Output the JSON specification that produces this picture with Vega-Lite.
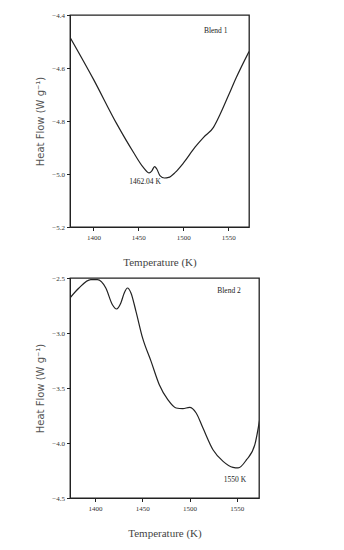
{
  "$schema": "https://vega.github.io/schema/vega-lite/v6.json",
  "padding": {"left": 35, "top": 10, "right": 5, "bottom": 5},
  "spacing": 4,
  "config": {
    "font": "Liberation Serif",
    "view": {"stroke": "#222", "strokeWidth": 1.3},
    "axis": {
      "grid": false,
      "labelOverlap": false,
      "labelFont": "Liberation Serif",
      "labelFontSize": 7,
      "labelColor": "#333",
      "tickColor": "#222",
      "domainColor": "#222",
      "titleFont": "Liberation Serif",
      "titleFontWeight": "normal",
      "titleColor": "#444"
    }
  },
  "datasets": {
    "blend1": [
      {"T": 1374, "HF": -4.484},
      {"T": 1400, "HF": -4.642},
      {"T": 1426, "HF": -4.811},
      {"T": 1444.5, "HF": -4.918},
      {"T": 1455.5, "HF": -4.975},
      {"T": 1462, "HF": -4.996},
      {"T": 1465, "HF": -4.988},
      {"T": 1468, "HF": -4.972},
      {"T": 1470.5, "HF": -4.981},
      {"T": 1474, "HF": -5.006},
      {"T": 1479, "HF": -5.015},
      {"T": 1483.7, "HF": -5.013},
      {"T": 1491, "HF": -4.994},
      {"T": 1500, "HF": -4.959},
      {"T": 1513, "HF": -4.899},
      {"T": 1522.5, "HF": -4.862},
      {"T": 1533.5, "HF": -4.824},
      {"T": 1541, "HF": -4.774},
      {"T": 1550, "HF": -4.705},
      {"T": 1559, "HF": -4.635},
      {"T": 1573, "HF": -4.538}
    ],
    "blend2": [
      {"T": 1373.4, "HF": -2.682},
      {"T": 1383, "HF": -2.591},
      {"T": 1395.4, "HF": -2.515},
      {"T": 1402.5, "HF": -2.515},
      {"T": 1411.4, "HF": -2.591},
      {"T": 1418.4, "HF": -2.743},
      {"T": 1422.7, "HF": -2.782},
      {"T": 1427.3, "HF": -2.727},
      {"T": 1430.9, "HF": -2.636},
      {"T": 1434.4, "HF": -2.591},
      {"T": 1438, "HF": -2.636},
      {"T": 1443.3, "HF": -2.803},
      {"T": 1450.3, "HF": -3.045},
      {"T": 1459.3, "HF": -3.258},
      {"T": 1468, "HF": -3.47},
      {"T": 1477, "HF": -3.606},
      {"T": 1485.8, "HF": -3.682},
      {"T": 1492.9, "HF": -3.688},
      {"T": 1500, "HF": -3.676},
      {"T": 1507, "HF": -3.727},
      {"T": 1514.2, "HF": -3.864},
      {"T": 1524.8, "HF": -4.061},
      {"T": 1535.5, "HF": -4.167},
      {"T": 1546, "HF": -4.222},
      {"T": 1551.4, "HF": -4.227},
      {"T": 1560.3, "HF": -4.152},
      {"T": 1569.1, "HF": -4.015},
      {"T": 1574.5, "HF": -3.773}
    ],
    "notes1": [
      {"T": 1536, "HF": -4.46, "label": "Blend 1", "bold": false},
      {"T": 1457.4, "HF": -5.031, "label": "1462.04 K", "bold": true}
    ],
    "notes2": [
      {"T": 1541.8, "HF": -2.62, "label": "Blend 2", "bold": false},
      {"T": 1548, "HF": -4.34, "label": "1550 K", "bold": true}
    ]
  },
  "vconcat": [
    {
      "width": 179,
      "height": 212,
      "layer": [
        {
          "data": {"name": "blend1"},
          "mark": {"type": "line", "color": "#222", "strokeWidth": 1.2, "clip": true, "interpolate": "monotone"},
          "encoding": {
            "x": {
              "field": "T", "type": "quantitative",
              "scale": {"domain": [1374, 1573], "nice": false, "zero": false},
              "axis": {
                "values": [1400, 1450, 1500, 1550],
                "format": "d",
                "tickSize": 3.5,
                "labelPadding": 3,
                "title": "Temperature (K)",
                "titleFontSize": 11,
                "titlePadding": 16
              }
            },
            "y": {
              "field": "HF", "type": "quantitative",
              "scale": {"domain": [-5.2, -4.4], "nice": false, "zero": false},
              "axis": {
                "values": [-5.2, -5.1, -5.0, -4.9, -4.8, -4.7, -4.6, -4.5, -4.4],
                "labelExpr": "abs(round(datum.value*10)) % 2 == 0 ? format(datum.value, '.1f') : ''",
                "tickSize": {"condition": {"test": "abs(round(datum.value*10)) % 2 == 0", "value": 3.5}, "value": 2},
                "labelPadding": 2,
                "title": "Heat Flow (W g⁻¹)",
                "titleFont": "DejaVu Sans",
                "titleFontSize": 10,
                "titleColor": "#555",
                "titlePadding": 6
              }
            }
          }
        },
        {
          "data": {"name": "notes1"},
          "mark": {"type": "text", "fontSize": 7.5, "color": "#222", "font": "Liberation Serif"},
          "encoding": {
            "x": {"field": "T", "type": "quantitative"},
            "y": {"field": "HF", "type": "quantitative"},
            "text": {"field": "label"},
            "fontWeight": {"condition": {"test": "datum.bold", "value": "bold"}, "value": "normal"}
          }
        }
      ]
    },
    {
      "width": 189,
      "height": 220,
      "layer": [
        {
          "data": {"name": "blend2"},
          "mark": {"type": "line", "color": "#222", "strokeWidth": 1.2, "clip": true, "interpolate": "monotone"},
          "encoding": {
            "x": {
              "field": "T", "type": "quantitative",
              "scale": {"domain": [1373.5, 1573.5], "nice": false, "zero": false},
              "axis": {
                "values": [1400, 1450, 1500, 1550],
                "format": "d",
                "tickSize": 3.5,
                "labelPadding": 3,
                "title": "Temperature (K)",
                "titleFontSize": 11,
                "titlePadding": 16
              }
            },
            "y": {
              "field": "HF", "type": "quantitative",
              "scale": {"domain": [-4.5, -2.5], "nice": false, "zero": false},
              "axis": {
                "values": [-4.5, -4.25, -4.0, -3.75, -3.5, -3.25, -3.0, -2.75, -2.5],
                "labelExpr": "abs(round(datum.value*4)) % 2 == 0 ? format(datum.value, '.1f') : ''",
                "tickSize": {"condition": {"test": "abs(round(datum.value*4)) % 2 == 0", "value": 3.5}, "value": 2},
                "labelPadding": 2,
                "title": "Heat Flow (W g⁻¹)",
                "titleFont": "DejaVu Sans",
                "titleFontSize": 10,
                "titleColor": "#555",
                "titlePadding": 6
              }
            }
          }
        },
        {
          "data": {"name": "notes2"},
          "mark": {"type": "text", "fontSize": 7.5, "color": "#222", "font": "Liberation Serif"},
          "encoding": {
            "x": {"field": "T", "type": "quantitative"},
            "y": {"field": "HF", "type": "quantitative"},
            "text": {"field": "label"},
            "fontWeight": {"condition": {"test": "datum.bold", "value": "bold"}, "value": "normal"}
          }
        }
      ]
    }
  ]
}
